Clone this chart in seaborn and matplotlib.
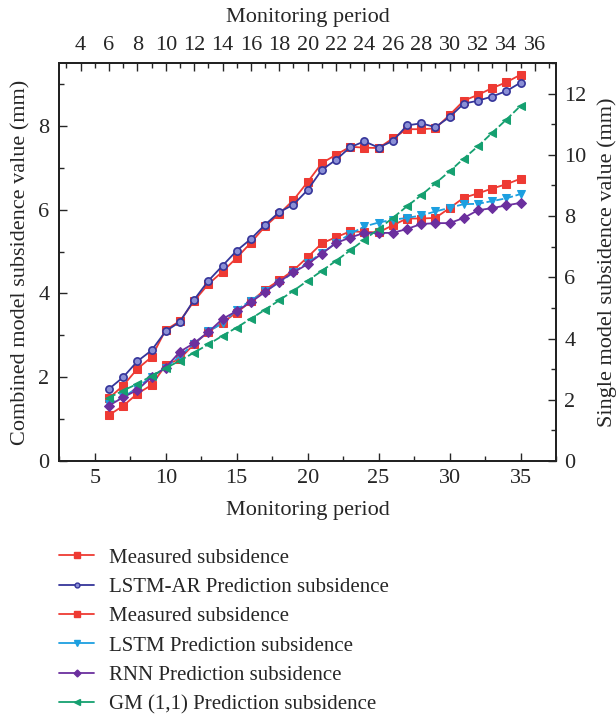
import numpy as np
import pandas as pd
import matplotlib
matplotlib.use("Agg")
import matplotlib.pyplot as plt
from matplotlib.ticker import MultipleLocator
from matplotlib.lines import Line2D
import seaborn as sns

# ---------------- data ----------------
periods = list(range(6, 36))
measured = [1.50, 1.80, 2.20, 2.48, 3.13, 3.34, 3.82, 4.22, 4.52, 4.85,
            5.21, 5.60, 5.90, 6.23, 6.66, 7.11, 7.31, 7.50, 7.48, 7.47,
            7.70, 7.92, 7.92, 7.94, 8.26, 8.60, 8.74, 8.90, 9.04, 9.22]
lstm_ar = [1.72, 2.00, 2.38, 2.64, 3.10, 3.32, 3.85, 4.30, 4.66, 5.02,
           5.30, 5.64, 5.94, 6.12, 6.47, 6.95, 7.19, 7.49, 7.63, 7.48,
           7.64, 8.01, 8.06, 7.97, 8.21, 8.53, 8.60, 8.70, 8.83, 9.03]
lstm = [1.86, 2.08, 2.40, 2.76, 3.05, 3.43, 3.83, 4.23, 4.50, 4.94,
        5.24, 5.54, 5.83, 6.16, 6.48, 6.79, 7.12, 7.42, 7.66, 7.79,
        7.88, 7.94, 8.02, 8.15, 8.27, 8.39, 8.40, 8.49, 8.58, 8.72]
rnn = [1.81, 2.08, 2.32, 2.74, 3.05, 3.57, 3.85, 4.21, 4.64, 4.90,
       5.19, 5.52, 5.86, 6.16, 6.43, 6.77, 7.12, 7.30, 7.45, 7.45,
       7.45, 7.58, 7.74, 7.77, 7.77, 7.94, 8.19, 8.26, 8.35, 8.43]
gm11 = [2.07, 2.30, 2.52, 2.78, 3.03, 3.28, 3.54, 3.81, 4.09, 4.36,
        4.65, 4.94, 5.25, 5.56, 5.89, 6.21, 6.54, 6.88, 7.23, 7.58,
        7.94, 8.32, 8.68, 9.07, 9.46, 9.88, 10.28, 10.72, 11.15, 11.60]

labels = ["Measured subsidence", "LSTM-AR Prediction subsidence",
          "Measured subsidence", "LSTM Prediction subsidence",
          "RNN Prediction subsidence", "GM (1,1) Prediction subsidence"]

df = pd.DataFrame({"period": periods, "measured": measured, "lstm_ar": lstm_ar,
                   "lstm": lstm, "rnn": rnn, "gm11": gm11})

# ---------------- style ----------------
sns.set_style("ticks")
plt.rcParams["font.family"] = ["Liberation Serif", "DejaVu Serif"]
FS = 16
LFS = 15

RED = "#ee3a33"
BLUE = "#35359a"
BLUE_FACE = "#8a8fd6"
CYAN = "#1c9fe0"
PURPLE = "#6b2f9e"
GREEN = "#15a070"

fig = plt.figure(figsize=(6.16, 7.18), dpi=100)
ax = fig.add_axes([59.3 / 616, 1 - 461 / 718, (556 - 59.3) / 616, (461 - 63) / 718])
ax2 = ax.twinx()
axt = ax.twiny()

# left axis series
sns.lineplot(data=df, x="period", y="measured", ax=ax, color=RED, marker="s",
             markersize=5.5, markeredgecolor=RED, lw=1.3)
sns.lineplot(data=df, x="period", y="lstm_ar", ax=ax, color=BLUE, marker="o",
             markersize=5.2, markerfacecolor=BLUE_FACE, markeredgecolor=BLUE,
             markeredgewidth=1.2, lw=1.3)

# right axis series
sns.lineplot(data=df, x="period", y="measured", ax=ax2, color=RED, marker="s",
             markersize=5.5, markeredgecolor=RED, lw=1.3)
sns.lineplot(data=df, x="period", y="lstm", ax=ax2, color=CYAN, marker="v",
             markersize=5.5, markeredgecolor=CYAN, lw=1.3, linestyle=(0, (4, 1.5)))
sns.lineplot(data=df, x="period", y="rnn", ax=ax2, color=PURPLE, marker="D",
             markersize=4.8, markeredgecolor=PURPLE, lw=1.3)
sns.lineplot(data=df, x="period", y="gm11", ax=ax2, color=GREEN, marker="<",
             markersize=5.5, markeredgecolor=GREEN, lw=1.3, linestyle=(0, (4, 1.5)))

# limits & ticks
for a in (ax, axt):
    a.set_xlim(2.5, 37.5)
ax.set_ylim(0, 9.5)
ax2.set_ylim(0, 13)

ax.set_xticks(np.arange(5, 36, 5))
ax.xaxis.set_minor_locator(MultipleLocator(2.5))
ax.yaxis.set_major_locator(MultipleLocator(2))
ax.yaxis.set_minor_locator(MultipleLocator(1))
ax2.yaxis.set_major_locator(MultipleLocator(2))
ax2.yaxis.set_minor_locator(MultipleLocator(1))
axt.set_xticks(np.arange(4, 37, 2))
axt.xaxis.set_minor_locator(MultipleLocator(1))

for a in (ax, ax2, axt):
    a.tick_params(which="major", direction="in", length=6, width=1, labelsize=FS, pad=6)
    a.tick_params(which="minor", direction="in", length=3.5, width=1)
    for s in a.spines.values():
        s.set_linewidth(1.2)
        s.set_color("#222222")
ax.tick_params(axis="y", which="major", pad=7)

ax.set_xlabel("Monitoring period", fontsize=FS, labelpad=9)
ax.set_ylabel("Combined model subsidence value (mm)", fontsize=FS, labelpad=6)
ax2.set_ylabel("Single model subsidence value (mm)", fontsize=FS, labelpad=8)
axt.set_xlabel("Monitoring period", fontsize=FS, labelpad=10)

for a in (ax, ax2):
    leg = a.get_legend()
    if leg:
        leg.remove()

# legend
handles = [
    Line2D([], [], color=RED, marker="s", markersize=4, lw=1.3),
    Line2D([], [], color=BLUE, marker="o", markersize=3.5, markerfacecolor=BLUE_FACE, lw=1.3),
    Line2D([], [], color=RED, marker="s", markersize=4, lw=1.3),
    Line2D([], [], color=CYAN, marker="v", markersize=4, lw=1.3),
    Line2D([], [], color=PURPLE, marker="D", markersize=3.5, lw=1.3),
    Line2D([], [], color=GREEN, marker="<", markersize=4, lw=1.3),
]
fig.legend(handles, labels, loc="upper left", bbox_to_anchor=(59 / 616, 1 - 548 / 718),
           frameon=False, fontsize=LFS, handlelength=1.68, handletextpad=0.72,
           labelspacing=0.47, borderpad=0, borderaxespad=0)

fig.savefig("out.png", dpi=100)
